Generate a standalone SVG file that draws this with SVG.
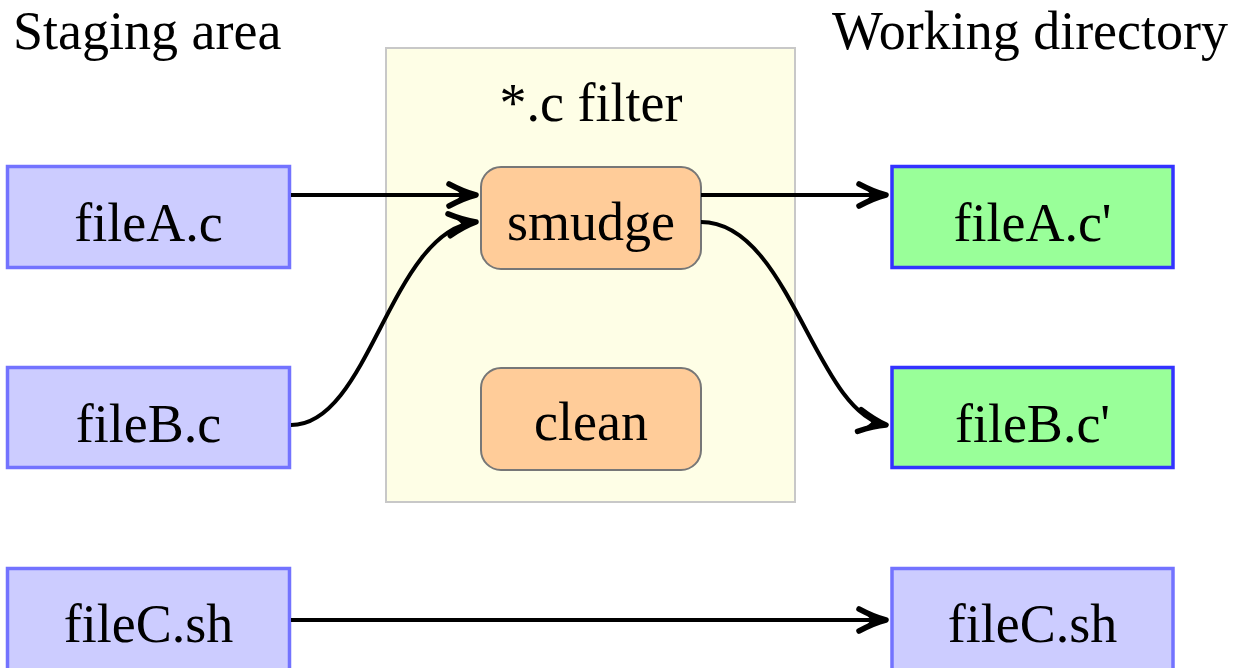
<svg xmlns="http://www.w3.org/2000/svg" width="1246" height="668" viewBox="0 0 1246 668">
<defs>
<style>
text{font-family:"Liberation Serif","Times New Roman",serif;font-size:54px;fill:#000}
.c{text-anchor:middle}
.stg{fill:#ccccff;stroke:#7373ff;stroke-width:3.5}
.wd{fill:#99ff99;stroke:#3333ff;stroke-width:3.5}
.flt{fill:#ffcc99;stroke:#777777;stroke-width:2}
.conn{fill:none;stroke:#000;stroke-width:4;marker-end:url(#arr)}
</style>
<marker id="arr" markerUnits="userSpaceOnUse" viewBox="-34 -17 38 34" markerWidth="38" markerHeight="34" refX="0" refY="0" orient="auto" overflow="visible">
<path d="M-27,-11 Q-12,-3 0,0 Q-12,3 -27,11" fill="none" stroke="#000" stroke-width="5.5" stroke-linecap="round" stroke-linejoin="round"/>
<path d="M1,0 Q-12,-3.5 -26,-11 Q-18,-4 -15,0 Q-18,4 -26,11 Q-12,3.5 1,0 Z" fill="#000"/>
</marker>
</defs>
<rect width="1246" height="668" fill="#ffffff"/>
<g id="title-staging"><text x="13" y="49">Staging area</text></g>
<g id="title-working"><text x="832" y="49">Working directory</text></g>
<g id="filter">
<rect x="386" y="48" width="409" height="454" fill="#fefee6" stroke="#c8c8c8" stroke-width="2"/>
<text class="c" x="591" y="121">*.c filter</text>
</g>
<g id="smudge"><rect class="flt" x="481" y="167" width="220" height="102" rx="20" ry="20"/><text class="c" x="591" y="240">smudge</text></g>
<g id="clean"><rect class="flt" x="481" y="368" width="220" height="102" rx="20" ry="20"/><text class="c" x="591" y="440">clean</text></g>
<g id="fileA"><rect class="stg" x="7.5" y="166.5" width="282" height="101"/><text class="c" x="148.5" y="241">fileA.c</text></g>
<g id="fileB"><rect class="stg" x="7.5" y="367.5" width="282" height="100"/><text class="c" x="148.5" y="442">fileB.c</text></g>
<g id="fileC"><rect class="stg" x="7.5" y="568.5" width="282" height="110"/><text class="c" x="148.5" y="642">fileC.sh</text></g>
<g id="fileA2"><rect class="wd" x="892" y="166.5" width="281" height="101"/><text class="c" x="1032.5" y="241">fileA.c'</text></g>
<g id="fileB2"><rect class="wd" x="892" y="367.5" width="281" height="100"/><text class="c" x="1032.5" y="442">fileB.c'</text></g>
<g id="fileC2"><rect class="stg" x="892" y="568.5" width="281" height="110"/><text class="c" x="1032.5" y="642">fileC.sh</text></g>
<g id="connectors">
<path class="conn" d="M291,195 L476,195"/>
<path class="conn" d="M291,425 C370,425 390,231 476,222"/>
<path class="conn" d="M701,195 L886,195"/>
<path class="conn" d="M701,222 C790,222 815,413 886,425"/>
<path class="conn" d="M291,620 L886,620"/>
</g>
</svg>
